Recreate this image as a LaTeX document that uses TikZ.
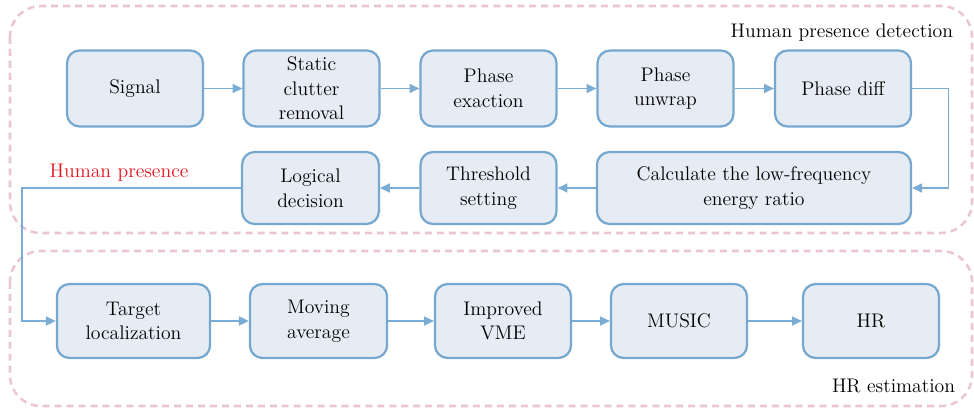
\documentclass[tikz,border=0pt]{standalone}
\usepackage{xcolor}
\usetikzlibrary{shapes}
\usetikzlibrary{arrows,arrows.meta}
\usetikzlibrary{positioning}
\definecolor{boxfill}{HTML}{E6ECF3}
\definecolor{boxline}{HTML}{76A7CF}
\definecolor{flowline}{HTML}{7BACD3}
\definecolor{framepink}{HTML}{EBC6D1}
\definecolor{labelred}{HTML}{E8151C}

\begin{document}
\begin{tikzpicture}[x=0.025cm,y=-0.025cm,
    every node/.style={font=\fontsize{14}{17.5}\selectfont},
    blk/.style={draw=boxline,fill=boxfill,line width=1.6pt,rounded corners=9pt,
        align=center,inner sep=2pt,minimum width=3.4cm,minimum height=1.9cm},
    flow/.style={draw=flowline,line width=0.9pt,-{Triangle[length=7pt,width=6.5pt]}},
    frame/.style={draw=framepink,line width=1.8pt,dash pattern=on 5pt off 3.5pt,rounded corners=22pt}]
    \useasboundingbox (0,0) rectangle (974,409);

    % dashed groups
    \draw[frame] (10,6) rectangle (972,233);
    \draw[frame] (10,251) rectangle (972,406);
    \node[anchor=east] (lbldet) at (958,33) {Human presence detection};
    \node[anchor=east] (lblhr) at (960,386) {HR estimation};

    % detection chain
    \node[blk] (signal) at (135,88.5) {Signal};
    \node[blk] (static) at (311.5,88.5) {Static\\clutter\\removal};
    \node[blk] (phext) at (488.5,88.5) {Phase\\exaction};
    \node[blk] (unwrap) at (665.5,88.5) {Phase\\unwrap};
    \node[blk] (pdiff) at (843,88.5) {Phase diff};
    \node[blk,minimum width=7.85cm,minimum height=1.8cm] (calc) at (754,188)
        {Calculate the low-frequency\\energy ratio};
    \node[blk,minimum height=1.8cm] (thresh) at (488.5,188) {Threshold\\setting};
    \node[blk,minimum width=3.42cm,minimum height=1.8cm] (logic) at (310.5,188) {Logical\\decision};
    \node[text=labelred] (presence) at (119,173) {Human presence};

    % HR chain
    \node[blk,minimum width=3.83cm,minimum height=1.85cm] (target) at (133.5,321) {Target\\localization};
    \node[blk,minimum width=3.43cm,minimum height=1.85cm] (movavg) at (318.5,321) {Moving\\average};
    \node[blk,minimum height=1.85cm] (vme) at (503,321) {Improved\\VME};
    \node[blk,minimum height=1.85cm] (music) at (679,321) {MUSIC};
    \node[blk,minimum height=1.85cm] (hr) at (871,321) {HR};
    \coordinate (turn) at (22,188);

\draw [flow] (signal) -- (static);
\draw [flow] (static) -- (phext);
\draw [flow] (phext) -- (unwrap);
\draw [flow] (unwrap) -- (pdiff);
\draw [flow] (pdiff.east) -- ++(36,0) |- (calc.east);
\draw [flow] (calc) -- (thresh);
\draw [flow] (thresh) -- (logic);
\draw [flow] (logic.west) -- (turn) |- (target.west);
\draw [flow] (target) -- (movavg);
\draw [flow] (movavg) -- (vme);
\draw [flow] (vme) -- (music);
\draw [flow] (music) -- (hr);
\end{tikzpicture}
\end{document}
